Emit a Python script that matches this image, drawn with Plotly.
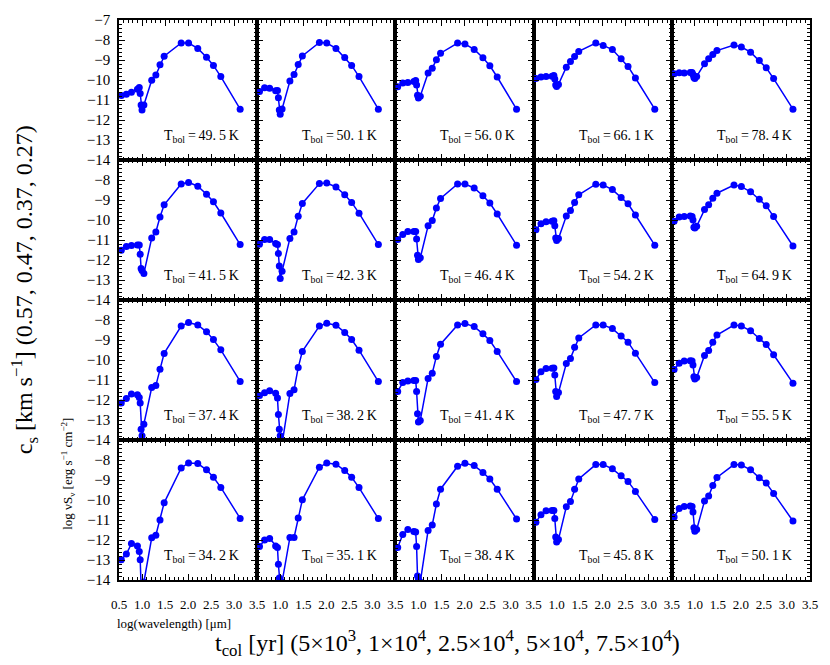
import plotly.graph_objs as go
from plotly.subplots import make_subplots

# log10 of wavelength in micron, shared by every panel
log_wave = [0.55, 0.66, 0.77, 0.90, 0.94, 0.96, 0.98, 1.00, 1.04, 1.21,
            1.30, 1.39, 1.48, 1.85, 2.01, 2.21, 2.40, 2.55, 2.71, 3.13]

# log nu S_nu, one list per panel; rows = c_s, columns = t_col
sed_cs057 = [
    [-10.77, -10.71, -10.61, -10.46, -10.38, -10.67, -11.25, -11.50, -11.25, -10.01, -9.75, -9.24, -8.81, -8.15, -8.15, -8.42, -8.86, -9.27, -9.83, -11.46],
    [-10.57, -10.39, -10.41, -10.54, -10.53, -10.89, -11.50, -11.71, -11.45, -10.05, -9.73, -9.22, -8.80, -8.12, -8.15, -8.42, -8.88, -9.27, -9.83, -11.46],
    [-10.34, -10.15, -10.13, -10.08, -10.03, -10.25, -10.76, -10.90, -10.81, -9.65, -9.41, -8.99, -8.66, -8.15, -8.20, -8.47, -8.89, -9.29, -9.85, -11.46],
    [-9.93, -9.85, -9.83, -9.81, -9.78, -9.95, -10.25, -10.33, -10.22, -9.36, -9.08, -8.83, -8.57, -8.15, -8.27, -8.48, -8.94, -9.32, -9.90, -11.46],
    [-9.69, -9.64, -9.65, -9.63, -9.62, -9.73, -9.88, -9.92, -9.82, -9.19, -8.94, -8.73, -8.53, -8.25, -8.35, -8.61, -9.03, -9.39, -9.93, -11.46],
]
sed_cs047 = [
    [-11.51, -11.33, -11.28, -11.25, -11.25, -11.71, -12.42, -12.52, -12.67, -10.90, -10.60, -9.85, -9.24, -8.20, -8.12, -8.31, -8.71, -9.09, -9.65, -11.23],
    [-11.21, -10.98, -10.98, -11.18, -11.23, -11.67, -12.30, -12.93, -12.56, -10.92, -10.60, -9.81, -9.17, -8.18, -8.15, -8.35, -8.74, -9.12, -9.66, -11.23],
    [-10.97, -10.72, -10.57, -10.57, -10.57, -10.95, -11.76, -11.97, -11.89, -10.29, -10.03, -9.40, -8.92, -8.20, -8.20, -8.40, -8.79, -9.15, -9.70, -11.26],
    [-10.49, -10.19, -10.09, -10.06, -10.04, -10.29, -10.90, -11.03, -10.93, -9.80, -9.53, -9.12, -8.74, -8.21, -8.25, -8.48, -8.87, -9.19, -9.75, -11.26],
    [-10.06, -9.85, -9.83, -9.80, -9.82, -10.00, -10.36, -10.40, -10.31, -9.48, -9.24, -8.91, -8.66, -8.25, -8.33, -8.59, -8.96, -9.29, -9.83, -11.30],
]
sed_cs037 = [
    [-12.15, -11.93, -11.70, -11.74, -11.87, -12.15, -13.46, -13.79, -13.21, -11.38, -11.28, -10.46, -9.67, -8.30, -8.13, -8.25, -8.59, -8.98, -9.49, -11.07],
    [-11.77, -11.64, -11.54, -11.66, -11.90, -12.72, -13.46, -13.79, -14.20, -11.67, -11.49, -10.38, -9.57, -8.30, -8.16, -8.26, -8.62, -8.98, -9.51, -11.08],
    [-11.57, -11.13, -11.05, -11.03, -11.02, -11.57, -12.69, -13.10, -13.02, -10.92, -10.66, -9.82, -9.21, -8.25, -8.18, -8.33, -8.69, -9.03, -9.57, -11.08],
    [-10.98, -10.59, -10.43, -10.41, -10.40, -10.75, -11.57, -11.82, -11.62, -10.18, -9.92, -9.36, -8.90, -8.25, -8.25, -8.43, -8.80, -9.11, -9.66, -11.13],
    [-10.48, -10.16, -10.05, -10.04, -10.05, -10.25, -10.84, -10.95, -10.88, -9.77, -9.52, -9.11, -8.75, -8.25, -8.30, -8.54, -8.92, -9.23, -9.74, -11.16],
]
sed_cs027 = [
    [-12.99, -12.70, -12.18, -12.30, -12.58, -12.99, -14.30, -14.90, -14.10, -11.89, -11.76, -11.00, -10.14, -8.40, -8.15, -8.18, -8.49, -8.86, -9.37, -10.92],
    [-12.33, -12.00, -11.92, -12.30, -12.38, -13.21, -13.90, -14.30, -14.10, -11.87, -11.87, -10.90, -9.99, -8.36, -8.15, -8.21, -8.53, -8.86, -9.38, -10.93],
    [-12.38, -11.72, -11.48, -11.58, -11.60, -12.33, -13.80, -13.95, -14.10, -11.52, -11.25, -10.20, -9.46, -8.31, -8.16, -8.28, -8.62, -8.95, -9.46, -10.95],
    [-11.11, -10.74, -10.54, -10.52, -10.53, -10.93, -11.85, -12.10, -11.97, -10.34, -10.07, -9.46, -8.95, -8.23, -8.23, -8.44, -8.79, -9.07, -9.57, -10.98],
    [-10.85, -10.43, -10.33, -10.30, -10.32, -10.60, -11.39, -11.56, -11.48, -10.05, -9.80, -9.28, -8.87, -8.23, -8.25, -8.49, -8.89, -9.15, -9.67, -11.05],
]

tbol_cs057 = ["49. 5", "50. 1", "56. 0", "66. 1", "78. 4"]
tbol_cs047 = ["41. 5", "42. 3", "46. 4", "54. 2", "64. 9"]
tbol_cs037 = ["37. 4", "38. 2", "41. 4", "47. 7", "55. 5"]
tbol_cs027 = ["34. 2", "35. 1", "38. 4", "45. 8", "50. 1"]

x_ticks = [0.5, 1.0, 1.5, 2.0, 2.5, 3.0, 3.5]
y_ticks = [-14, -13, -12, -11, -10, -9, -8, -7]

rows_sed = [sed_cs057, sed_cs047, sed_cs037, sed_cs027]
rows_tbol = [tbol_cs057, tbol_cs047, tbol_cs037, tbol_cs027]

FONT = "Liberation Serif, Times New Roman, serif"
BLUE = "#0000ff"
THIN = "\u2009"

fig = make_subplots(rows=4, cols=5, horizontal_spacing=0, vertical_spacing=0)

for r in range(4):
    for c in range(5):
        fig.add_trace(go.Scatter(x=log_wave, y=rows_sed[r][c], mode="lines+markers",
                                 line=dict(color=BLUE, width=1.5),
                                 marker=dict(color=BLUE, size=7),
                                 showlegend=False), row=r + 1, col=c + 1)
        n = r * 5 + c + 1
        ax = "" if n == 1 else str(n)
        label = "T<sub>bol</sub>" + THIN + "=" + THIN + rows_tbol[r][c].replace(" ", THIN) + THIN + "K"
        fig.add_annotation(x=3.15, y=-12.8, xref="x" + ax, yref="y" + ax,
                           text=label, showarrow=False, xanchor="right", yanchor="middle",
                           font=dict(family=FONT, size=14, color="black"))

axis_common = dict(showline=True, linecolor="black", linewidth=1.5, mirror="ticks",
                   ticks="inside", ticklen=6, tickwidth=1.2, tickcolor="black",
                   showgrid=False, zeroline=False)

fig.update_xaxes(range=[0.5, 3.5], tickmode="array", tickvals=x_ticks,
                 minor=dict(tickmode="linear", tick0=0.5, dtick=0.1, ticks="inside",
                            ticklen=3, tickcolor="black", tickwidth=1, showgrid=False),
                 showticklabels=False, tickfont=dict(family=FONT, size=13, color="black"),
                 **axis_common)
fig.update_yaxes(range=[-14, -7], tickmode="array", tickvals=y_ticks,
                 minor=dict(tickmode="linear", tick0=-14, dtick=0.2, ticks="inside",
                            ticklen=3, tickcolor="black", tickwidth=1, showgrid=False),
                 showticklabels=False, tickfont=dict(family=FONT, size=15, color="black"),
                 **axis_common)

for c in range(5):
    labels = ["%.1f" % v for v in x_ticks]
    if c > 0:
        labels[0] = ""
    fig.update_xaxes(showticklabels=True, ticktext=labels, ticklabelstandoff=12,
                     row=4, col=c + 1)
for r in range(4):
    labels = ["\u2212%d" % abs(v) for v in y_ticks]
    if r > 0:
        labels[-1] = ""
    fig.update_yaxes(showticklabels=True, ticktext=labels, ticklabelstandoff=4,
                     row=r + 1, col=1)

titles = [
    dict(x=-0.137, y=0.518, textangle=-90, size=24,
         text="c<sub>s</sub> [km s<sup>\u22121</sup>] (0.57, 0.47, 0.37, 0.27)"),
    dict(x=-0.075, y=0.19, textangle=-90, size=13,
         text="log \u03bdS<sub>\u03bd</sub> [erg s<sup>\u22121</sup> cm<sup>\u22122</sup>]"),
    dict(x=0.08, y=-0.077, textangle=0, size=13,
         text="log(wavelength) [\u03bcm]"),
    dict(x=0.475, y=-0.112, textangle=0, size=24,
         text="t<sub>col</sub> [yr] (5\u00d710<sup>3</sup>, 1\u00d710<sup>4</sup>, "
              "2.5\u00d710<sup>4</sup>, 5\u00d710<sup>4</sup>, 7.5\u00d710<sup>4</sup>)"),
]
for t in titles:
    fig.add_annotation(x=t["x"], y=t["y"], xref="paper", yref="paper",
                       xanchor="center", yanchor="middle", textangle=t["textangle"],
                       text=t["text"], showarrow=False,
                       font=dict(family=FONT, size=t["size"], color="black"))

fig.update_layout(width=830, height=665, margin=dict(l=119, r=16, t=14, b=85),
                  paper_bgcolor="white", plot_bgcolor="white",
                  font=dict(family=FONT, color="black"))

fig.write_html("out.html", config={"displayModeBar": False},
               post_script="document.body.style.margin='0';")
